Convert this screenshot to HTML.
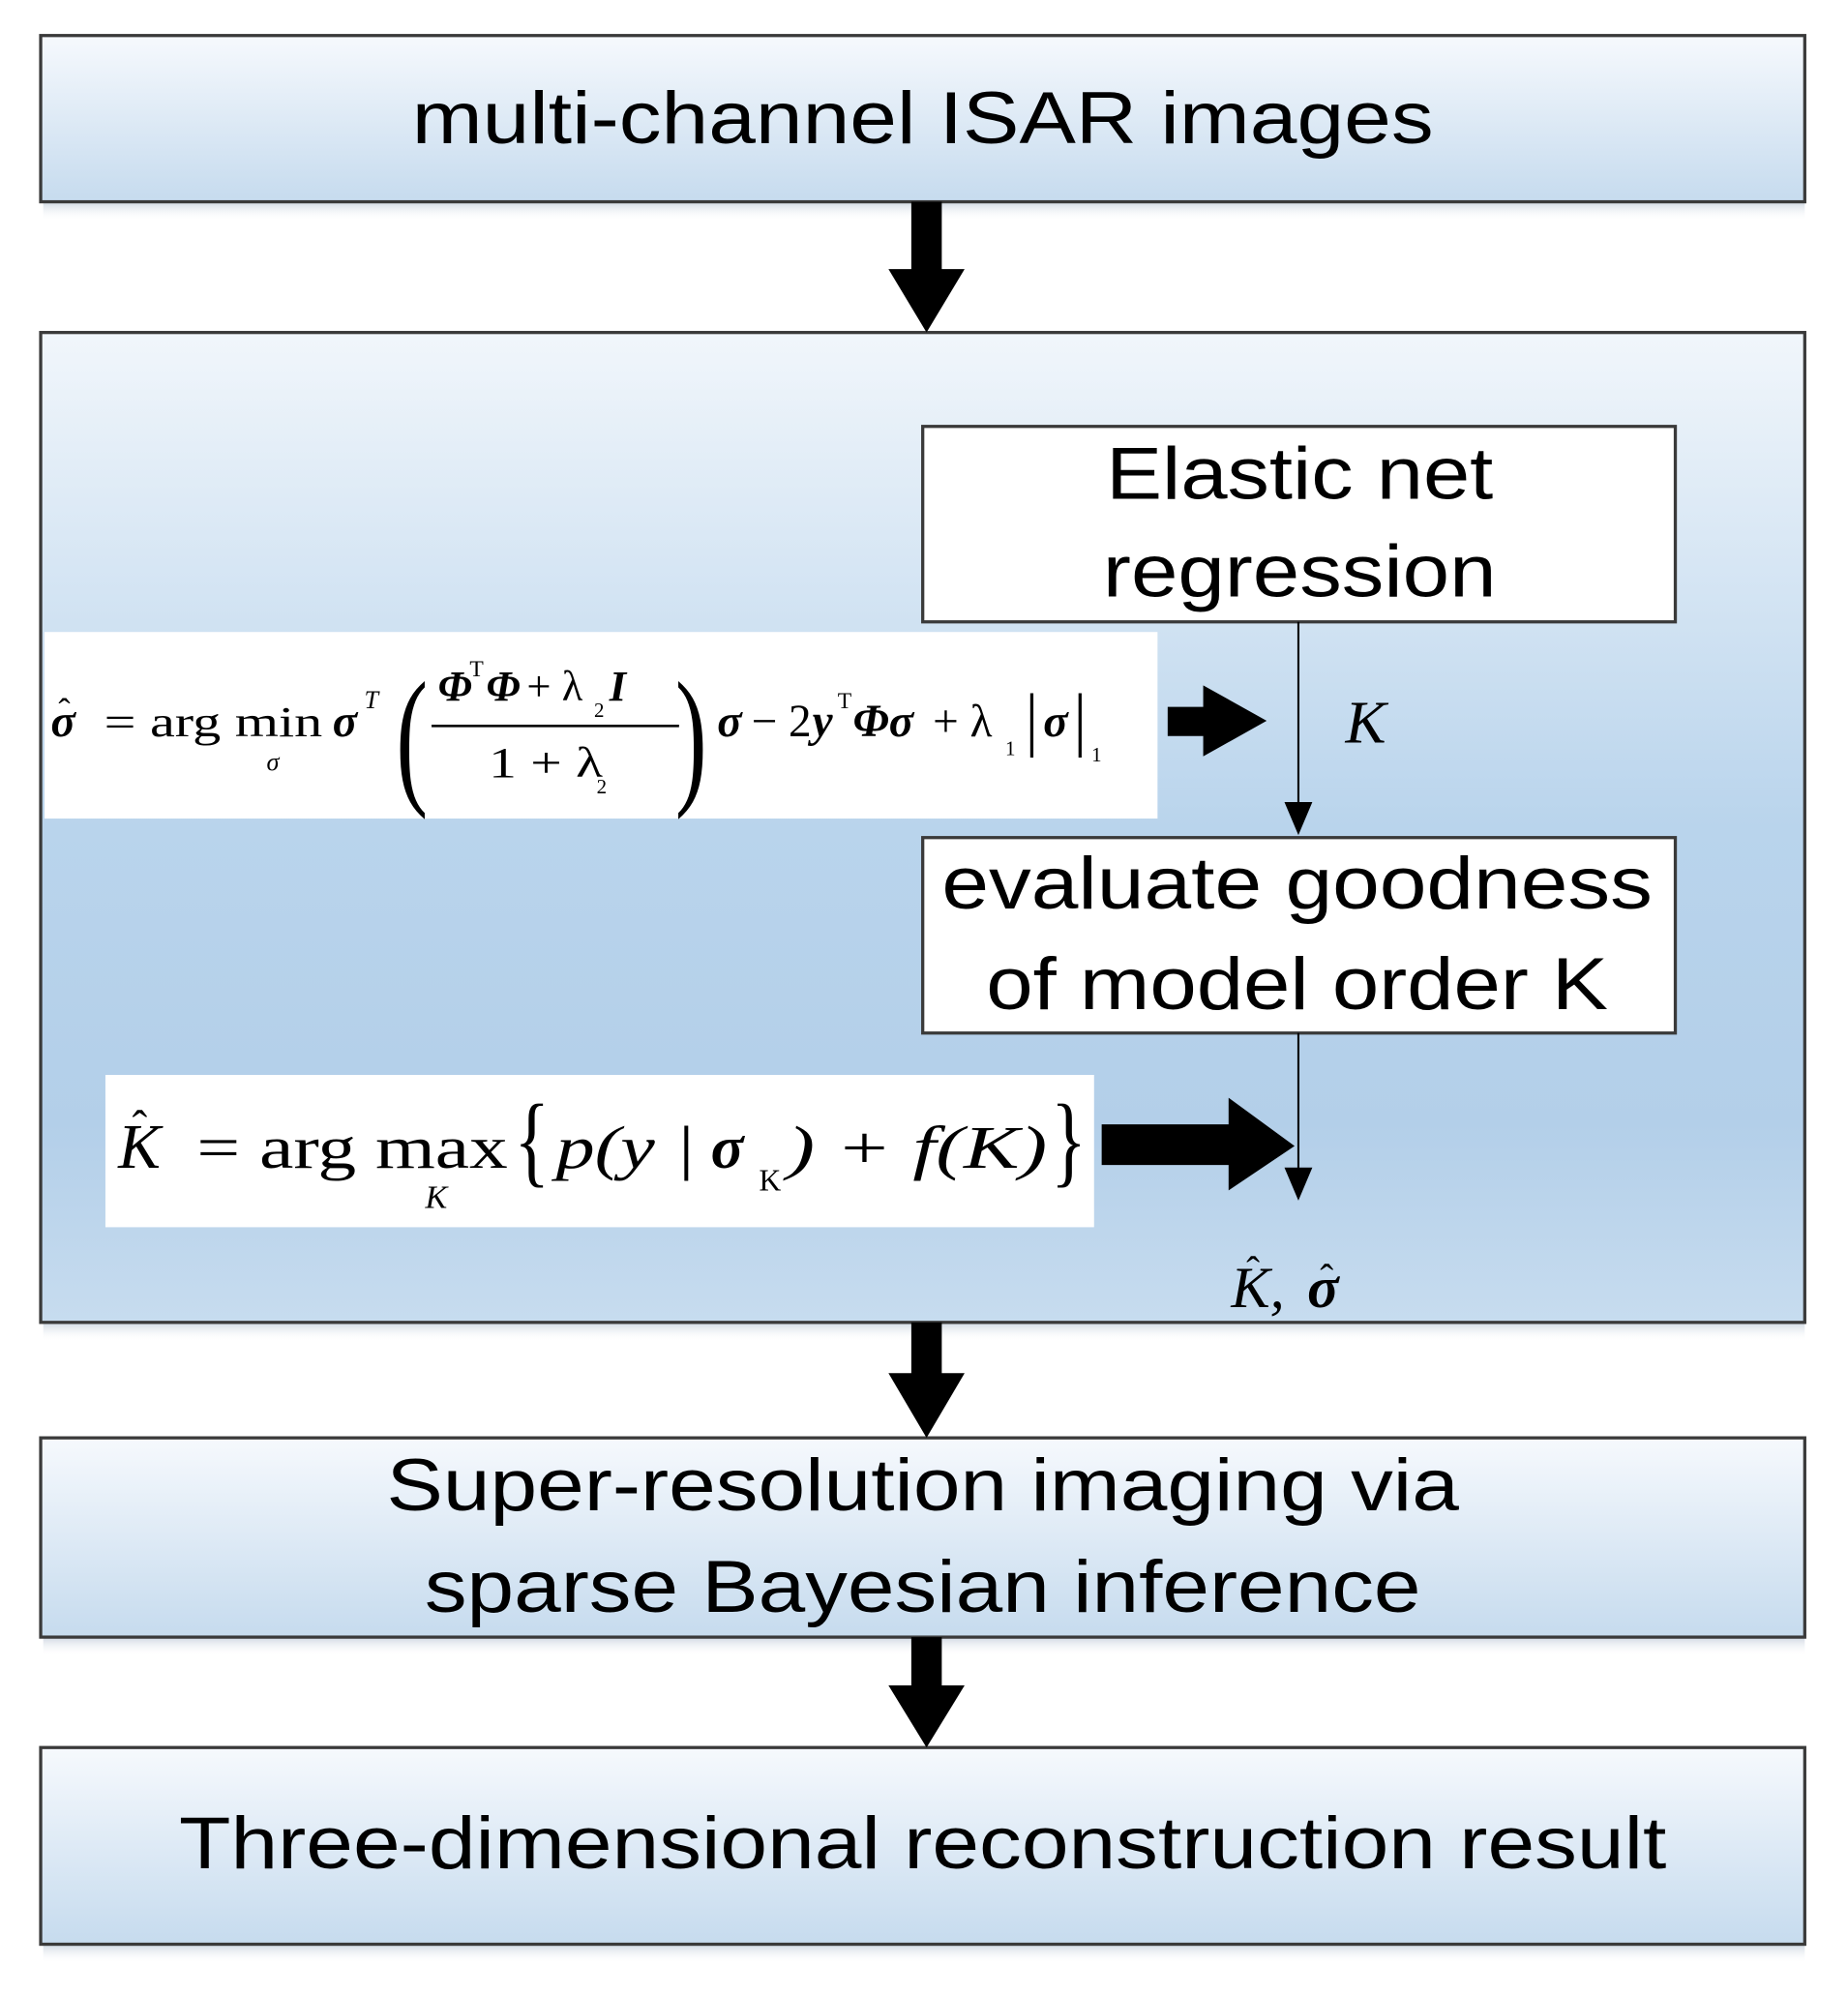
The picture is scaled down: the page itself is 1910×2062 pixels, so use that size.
<!DOCTYPE html>
<html><head><meta charset="utf-8"><style>html,body{margin:0;padding:0;background:#fff}svg{display:block}</style></head><body>
<svg width="1910" height="2062" viewBox="0 0 1456 1572" xmlns="http://www.w3.org/2000/svg">
<defs>
<linearGradient id="g1" x1="0" y1="0" x2="0" y2="1"><stop offset="0" stop-color="#f6f9fd"/><stop offset="1" stop-color="#c6dbee"/></linearGradient>
<linearGradient id="g2" x1="0" y1="0" x2="0" y2="1"><stop offset="0" stop-color="#f1f6fb"/><stop offset="0.5" stop-color="#b9d4ec"/><stop offset="0.8" stop-color="#b3cfe9"/><stop offset="1" stop-color="#c7dcef"/></linearGradient>
<linearGradient id="sh" x1="0" y1="0" x2="0" y2="1"><stop offset="0" stop-color="#d5dde6"/><stop offset="1" stop-color="#ffffff" stop-opacity="0"/></linearGradient>
</defs>
<g fill="url(#sh)"><rect x="34" y="160" width="1388" height="14"/><rect x="34" y="1043" width="1388" height="14"/><rect x="34" y="1291" width="1388" height="14"/><rect x="34" y="1533" width="1388" height="14"/></g>
<g stroke="#3a3a3a" stroke-width="2.5">
<rect x="32" y="28" width="1390" height="131" fill="url(#g1)"/>
<rect x="32" y="262" width="1390" height="780" fill="url(#g2)"/>
<rect x="32" y="1133" width="1390" height="157" fill="url(#g1)"/>
<rect x="32" y="1377" width="1390" height="155" fill="url(#g1)"/>
<rect x="727" y="336" width="593" height="154" fill="#fff"/>
<rect x="727" y="660" width="593" height="154" fill="#fff"/>
</g>
<g fill="#000">
<rect x="718" y="159" width="24" height="55"/><polygon points="700,212 760,212 730,262"/>
<rect x="718" y="1042" width="24" height="42"/><polygon points="700,1082 760,1082 730,1133"/>
<rect x="718" y="1290" width="24" height="40"/><polygon points="700,1328 760,1328 730,1377"/>
</g>
<g font-family="Liberation Sans, sans-serif" font-size="58" fill="#000" text-anchor="middle">
<text x="727" y="113" textLength="805" lengthAdjust="spacingAndGlyphs">multi-channel ISAR images</text>
<text x="1024" y="393" textLength="305" lengthAdjust="spacingAndGlyphs">Elastic net</text>
<text x="1024" y="470" textLength="310" lengthAdjust="spacingAndGlyphs">regression</text>
<text x="1022" y="716" textLength="560" lengthAdjust="spacingAndGlyphs">evaluate goodness</text>
<text x="1022" y="795" textLength="490" lengthAdjust="spacingAndGlyphs">of model order K</text>
<text x="727" y="1190" textLength="845" lengthAdjust="spacingAndGlyphs">Super-resolution imaging via</text>
<text x="727" y="1270" textLength="785" lengthAdjust="spacingAndGlyphs">sparse Bayesian inference</text>
<text x="727" y="1472" textLength="1172" lengthAdjust="spacingAndGlyphs">Three-dimensional reconstruction result</text>
</g>
<g stroke="#000" stroke-width="1.6"><line x1="1023" y1="490" x2="1023" y2="635"/><line x1="1023" y1="814" x2="1023" y2="922"/></g>
<g fill="#000"><polygon points="1012,632 1034,632 1023,658"/><polygon points="1012,920 1034,920 1023,946"/></g>
<rect x="35" y="498" width="877" height="147" fill="#fff"/>
<rect x="83" y="847" width="779" height="120" fill="#fff"/>
<g fill="#000">
<polygon points="920,557 948,557 948,540 998,568 948,596 948,580 920,580"/>
<polygon points="868,886 968,886 968,865 1020,903 968,938 968,918 868,918"/>
</g>
<g font-family="Liberation Serif, serif" fill="#000">
<text x="40" y="580" font-size="36" font-weight="bold" font-style="italic">σ</text>
<text x="46" y="570" font-size="28">ˆ</text>
<text x="82" y="580" font-size="34" textLength="172" lengthAdjust="spacingAndGlyphs">= arg min</text>
<text x="210" y="607" font-size="20" font-style="italic">σ</text>
<text x="262" y="580" font-size="36" font-weight="bold" font-style="italic">σ</text>
<text x="287" y="558" font-size="20" font-style="italic">T</text>
<text x="312" y="620" font-size="120" textLength="25" lengthAdjust="spacingAndGlyphs">(</text>
<text x="345" y="552" font-size="34" font-weight="bold" font-style="italic">Φ</text>
<text x="370" y="533" font-size="18">T</text>
<text x="383" y="552" font-size="34" font-weight="bold" font-style="italic">Φ</text>
<text x="415" y="552" font-size="34">+ λ</text>
<text x="468" y="565" font-size="16">2</text>
<text x="480" y="552" font-size="34" font-weight="bold" font-style="italic">I</text>
<line x1="340" y1="572" x2="535" y2="572" stroke="#000" stroke-width="2"/>
<text x="385" y="612" font-size="34" textLength="90" lengthAdjust="spacingAndGlyphs">1 + λ</text>
<text x="470" y="625" font-size="16">2</text>
<text x="532" y="620" font-size="120" textLength="25" lengthAdjust="spacingAndGlyphs">)</text>
<text x="565" y="580" font-size="36" font-weight="bold" font-style="italic">σ</text>
<text x="592" y="580" font-size="36">− 2</text>
<text x="640" y="580" font-size="36" font-weight="bold" font-style="italic">y</text>
<text x="660" y="558" font-size="18">T</text>
<text x="672" y="580" font-size="36" font-weight="bold" font-style="italic">Φσ</text>
<text x="735" y="580" font-size="36">+ λ</text>
<text x="792" y="595" font-size="16">1</text>
<text x="808" y="585" font-size="56" textLength="10" lengthAdjust="spacingAndGlyphs">|</text>
<text x="822" y="580" font-size="36" font-weight="bold" font-style="italic">σ</text>
<text x="846" y="585" font-size="56" textLength="10" lengthAdjust="spacingAndGlyphs">|</text>
<text x="860" y="600" font-size="16">1</text>
<text x="1060" y="585" font-size="48" font-style="italic">K</text>
<text x="93" y="920" font-size="50" font-style="italic">K</text>
<text x="104" y="900" font-size="36">ˆ</text>
<text x="155" y="920" font-size="48" textLength="245" lengthAdjust="spacingAndGlyphs">= arg max</text>
<text x="335" y="952" font-size="26" font-style="italic">K</text>
<text x="405" y="925" font-size="80" textLength="28" lengthAdjust="spacingAndGlyphs">{</text>
<text x="438" y="920" font-size="48" font-style="italic" textLength="110" lengthAdjust="spacingAndGlyphs">p(y |</text>
<text x="560" y="920" font-size="48" font-weight="bold" font-style="italic">σ</text>
<text x="598" y="938" font-size="24">K</text>
<text x="620" y="920" font-size="48" font-style="italic" textLength="205" lengthAdjust="spacingAndGlyphs">) + f(K)</text>
<text x="828" y="925" font-size="80" textLength="28" lengthAdjust="spacingAndGlyphs">}</text>
<text x="970" y="1030" font-size="46" font-style="italic">K,</text>
<text x="982" y="1012" font-size="32">ˆ</text>
<text x="1030" y="1030" font-size="46" font-weight="bold" font-style="italic">σ</text>
<text x="1040" y="1018" font-size="32">ˆ</text>
</g>
</svg>
</body></html>
